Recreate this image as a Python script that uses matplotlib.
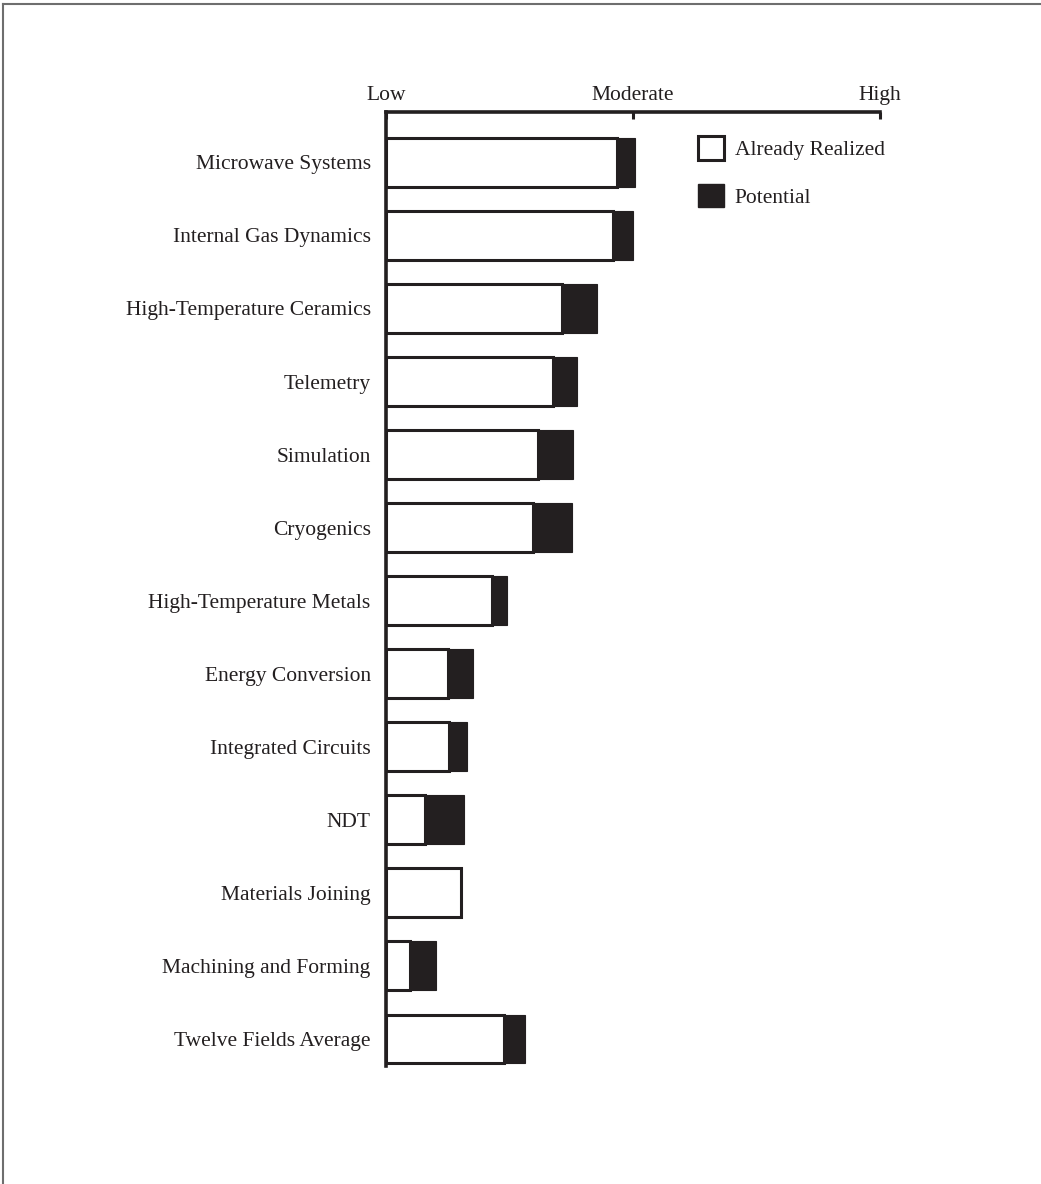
import matplotlib
matplotlib.use("Agg")
import matplotlib.pyplot as plt
from matplotlib.patches import Patch
from matplotlib.lines import Line2D
import numpy as np

categories = [
    "Microwave Systems", "Internal Gas Dynamics", "High-Temperature Ceramics",
    "Telemetry", "Simulation", "Cryogenics", "High-Temperature Metals",
    "Energy Conversion", "Integrated Circuits", "NDT", "Materials Joining",
    "Machining and Forming", "Twelve Fields Average",
]
# scale: Low = 0, Moderate = 5, High = 10
realized = [4.68, 4.60, 3.56, 3.38, 3.08, 2.98, 2.15, 1.26, 1.28, 0.79, 1.52, 0.49, 2.39]
potential = [0.36, 0.40, 0.71, 0.49, 0.71, 0.79, 0.30, 0.50, 0.36, 0.79, 0.00, 0.52, 0.42]
scale_ticks = [0, 5, 10]
scale_labels = ["Low", "Moderate", "High"]

INK = "#231f20"
plt.rcParams["font.family"] = ["Liberation Serif", "DejaVu Serif"]
FS = 15.5

W, H = 1041, 1184
fig = plt.figure(figsize=(W / 100, H / 100), dpi=100)
ax = fig.add_axes([386 / W, 1 - 1066 / H, (880 - 386) / W, (1066 - 112) / H])

y = np.arange(len(categories))
ax.barh(y, realized, height=0.67, color="white", edgecolor=INK, linewidth=2.2, zorder=2)
ax.barh(y, potential, left=realized, height=0.67, color=INK, edgecolor=INK,
        linewidth=0.8, zorder=2)

ax.set_xlim(0, 10)
ax.set_ylim(len(categories) - 1 + 0.37, -0.69)

for s in ["right", "bottom"]:
    ax.spines[s].set_visible(False)
for s in ["left", "top"]:
    ax.spines[s].set_linewidth(2.6)
    ax.spines[s].set_color(INK)

ax.xaxis.tick_top()
ax.set_xticks(scale_ticks)
ax.set_xticklabels(scale_labels, fontsize=FS)
ax.tick_params(axis="x", direction="in", length=5, width=2.2, color=INK, pad=5,
               labelcolor=INK)
ax.set_yticks(y)
ax.set_yticklabels(categories, fontsize=FS)
ax.tick_params(axis="y", length=0, pad=11, labelcolor=INK)

handles = [Patch(facecolor="white", edgecolor=INK, linewidth=2.2, label="Already Realized"),
           Patch(facecolor=INK, edgecolor=INK, label="Potential")]
ax.legend(handles=handles, loc="upper left", bbox_to_anchor=(0.632, 0.975), frameon=False,
          fontsize=FS, handlelength=1.2, handleheight=1.32, handletextpad=0.5,
          labelspacing=1.1, labelcolor=INK, borderpad=0, borderaxespad=0)

# partial page border (top and left)
fig.add_artist(Line2D([3 / W, 1], [1 - 4 / H, 1 - 4 / H], color="#6e6e6e", linewidth=1.5,
                      transform=fig.transFigure))
fig.add_artist(Line2D([3 / W, 3 / W], [0, 1 - 4 / H], color="#6e6e6e", linewidth=1.5,
                      transform=fig.transFigure))

fig.savefig("out.png", dpi=100, facecolor="white")
